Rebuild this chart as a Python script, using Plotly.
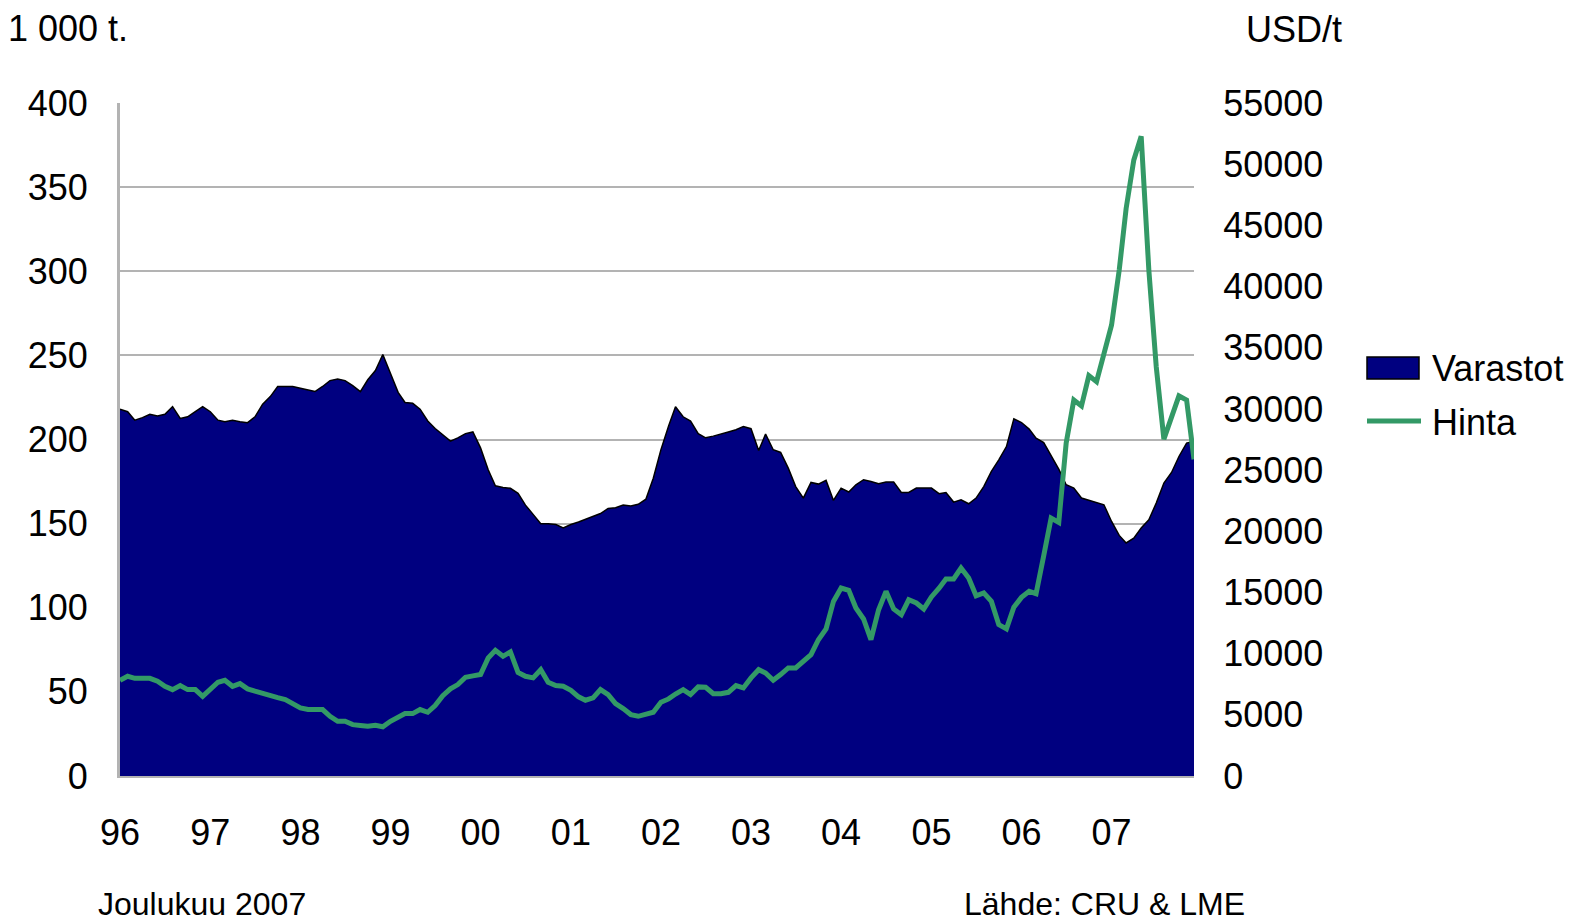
import pandas as pd
import plotly.graph_objects as go

# Monthly data Jan 1996 - Dec 2007
months = pd.date_range("1996-01-01", periods=144, freq="MS")

varastot = [
    218, 216.5, 211.5, 213, 215, 214, 215, 219.5, 212.5, 213.5, 216.5, 219.5,
    216.5, 211.5, 210.5, 211.5, 210.5, 210, 213.5, 221, 225.5, 231.5, 231.5, 231.5,
    230.5, 229.5, 228.5, 231.5, 235, 236, 235, 232, 228.5, 235.5, 241, 250.5,
    239.5, 228, 222, 221.5, 218, 211, 206.5, 203, 199, 201, 203.5, 204.5,
    195, 182, 172.5, 171.5, 171, 168, 161, 155.5, 150, 150, 149.5, 147.5,
    149.5, 151, 152.5, 154.5, 156, 159, 159.5, 161, 160.5, 161.5, 164.5, 177,
    194, 208, 219.5, 213.5, 211, 203.5, 201, 202, 203.5, 204.5, 205.8, 207.7,
    206.4, 193.5, 203.2, 193.9, 192.3, 183, 172, 165.2, 174.5, 173.5, 175.7, 163.8,
    171.1, 168.8, 173.1, 176.1, 175, 173.7, 174.7, 174.7, 168.5, 168.5, 171.1, 171.1,
    171.1, 167.8, 168.5, 162.8, 164.2, 161.8, 165.2, 172, 181, 187.9, 195.8, 212.3,
    210.1, 206.2, 200.8, 198.2, 190.3, 182.4, 173.1, 171.1, 165.2, 163.8, 162.5, 161.2,
    151.3, 143, 138.5, 141.4, 147.4, 152.3, 162.2, 174.1, 180.4, 189.9, 197.9, 199,
]

hinta = [
    7820, 8150, 7980, 7980, 7980, 7740, 7330, 7060, 7390, 7060, 7060, 6510,
    7060, 7660, 7820, 7330, 7550, 7120, 6930, 6730, 6550, 6400, 6250, 5920,
    5570, 5430, 5430, 5430, 4880, 4470, 4470, 4200, 4130, 4070, 4150, 4020,
    4470, 4800, 5100, 5100, 5430, 5210, 5760, 6570, 7120, 7470, 8070, 8180,
    8290, 9650, 10270, 9780, 10140, 8470, 8150, 8020, 8690, 7660, 7390, 7330,
    7000, 6470, 6190, 6380, 7060, 6650, 5920, 5510, 5020, 4880, 5000, 5210,
    6020, 6300, 6700, 7060, 6650, 7280, 7250, 6730, 6730, 6840, 7390, 7200,
    8020, 8690, 8420, 7820, 8290, 8830, 8830, 9370, 9920, 11140, 12020, 14270,
    15360, 15170, 13730, 12830, 11140, 13590, 15090, 13650, 13180, 14400, 14140, 13650,
    14630, 15350, 16100, 16100, 17000, 16180, 14730, 14960, 14270, 12370, 12020, 13800,
    14600, 15090, 14900, 18000, 21080, 20720, 27200, 30730, 30240, 32720, 32230, 34500,
    36860, 41350, 46380, 50330, 52280, 41350, 33450, 27530, 29300, 31060, 30730, 25880,
]

year_ticks = pd.date_range("1996-01-01", periods=12, freq="12MS")
year_labels = ["96", "97", "98", "99", "00", "01", "02", "03", "04", "05", "06", "07"]
series_names = ["Varastot", "Hinta"]

OFF = 8  # page body margin
W, H = 1594 - OFF, 923 - OFF
# plot area in page pixels: left 120, right 1194, top 103, bottom 776
L, T = 120 - OFF, 103 - OFF
R = W - (1194 - OFF)
B = H - (776 - OFF)
PW, PH = W - L - R, H - T - B


def px(x):
    return (x - OFF - L) / PW


def py(y):
    return (H - B - (y - OFF)) / PH


FONT = "Liberation Sans, Arial, sans-serif"
GRID = "#b3b3b3"
NAVY = "#000080"
GREEN = "#339966"

fig = go.Figure()
fig.add_trace(go.Scatter(
    x=months, y=varastot, name=series_names[0], mode="lines",
    fill="tozeroy", fillcolor=NAVY,
    line=dict(color="black", width=1.5),
    yaxis="y", showlegend=False,
))
fig.add_trace(go.Scatter(
    x=months, y=hinta, name=series_names[1], mode="lines",
    line=dict(color=GREEN, width=5),
    yaxis="y2", showlegend=False,
))

shapes = [
    dict(type="rect", xref="paper", yref="paper",
         x0=px(1367), x1=px(1419), y0=py(379), y1=py(357),
         fillcolor=NAVY, line=dict(color="black", width=1.5)),
    dict(type="line", xref="paper", yref="paper",
         x0=px(1367), x1=px(1421), y0=py(421), y1=py(421),
         line=dict(color=GREEN, width=5)),
]

ann_style = dict(xref="paper", yref="paper", showarrow=False,
                 xanchor="left", yanchor="middle")
annotations = [
    dict(text="1 000 t.", x=px(6), y=py(29), font=dict(size=36), **ann_style),
    dict(text="USD/t", x=px(1244), y=py(30), font=dict(size=36), **ann_style),
    dict(text="Joulukuu 2007", x=px(96), y=py(904), font=dict(size=32), **ann_style),
    dict(text="Lähde: CRU & LME", x=px(962), y=py(904), font=dict(size=32), **ann_style),
    dict(text=series_names[0], x=px(1430), y=py(368), font=dict(size=36), **ann_style),
    dict(text=series_names[1], x=px(1430), y=py(422), font=dict(size=36), **ann_style),
]

fig.update_layout(
    width=W, height=H,
    margin=dict(l=L, r=R, t=T, b=B),
    paper_bgcolor="white", plot_bgcolor="white",
    font=dict(family=FONT, size=36, color="black"),
    showlegend=False,
    xaxis=dict(
        type="date",
        range=[months[0], months[-1]],
        tickvals=year_ticks, ticktext=year_labels,
        ticks="outside", ticklen=24, tickcolor="rgba(0,0,0,0)",
        showgrid=False, showline=True, linecolor=GRID, linewidth=2,
        tickfont=dict(size=36),
    ),
    yaxis=dict(
        range=[0, 400], dtick=50,
        showgrid=True, gridcolor=GRID, gridwidth=1.5,
        showline=True, linecolor=GRID, linewidth=3,
        ticks="outside", ticklen=22, tickcolor="rgba(0,0,0,0)",
        zeroline=False, tickfont=dict(size=36),
    ),
    yaxis2=dict(
        range=[0, 55000], dtick=5000, overlaying="y", side="right",
        showgrid=False, showline=False, zeroline=False,
        ticks="outside", ticklen=21, tickcolor="rgba(0,0,0,0)",
        tickformat="d", tickfont=dict(size=36),
    ),
    shapes=shapes,
    annotations=annotations,
)

fig.write_html("out.html")
